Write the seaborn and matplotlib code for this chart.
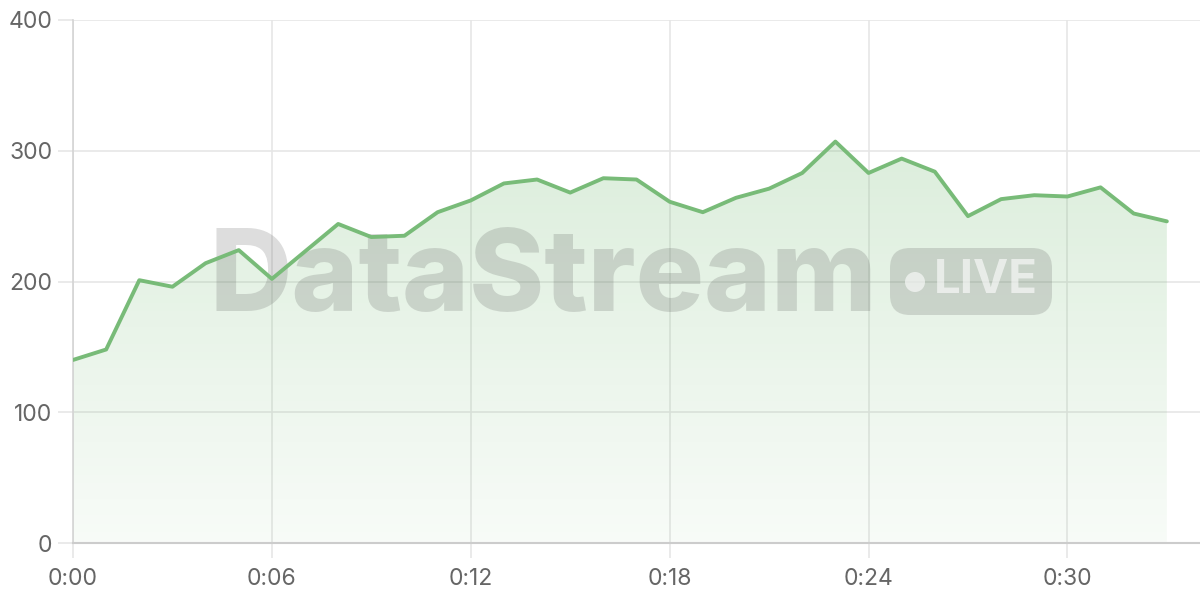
import numpy as np
import pandas as pd
import matplotlib
matplotlib.use("Agg")
import matplotlib.pyplot as plt
from matplotlib.patches import FancyBboxPatch, Circle
import seaborn as sns

# ---- data ----
minutes = list(range(34))
values = [140, 148, 201, 196, 214, 224, 202, 223, 244, 234, 235, 253, 262, 275,
          278, 268, 279, 278, 261, 253, 264, 271, 283, 307, 283, 294, 284, 250,
          263, 266, 265, 272, 252, 246]
xtick_pos = [0, 6, 12, 18, 24, 30]
xtick_labels = ["0:00", "0:06", "0:12", "0:18", "0:24", "0:30"]
ytick_pos = [0, 100, 200, 300, 400]
watermark = "DataStream"
badge_text = "LIVE"

df = pd.DataFrame({"minute": minutes, "value": values})

sns.set_theme(style="white")
plt.rcParams["font.family"] = ["Inter", "DejaVu Sans"]

fig = plt.figure(figsize=(12, 6), dpi=100)
ax = fig.add_axes([73 / 1200, 57 / 600, (1200 - 73) / 1200, (543 - 20) / 600])
ax.set_xlim(0, 34)
ax.set_ylim(0, 400)

green = (0.43, 0.72, 0.43)

# gradient fill under line
poly = ax.fill_between(df["minute"], df["value"], 0, color="none", lw=0)
grad = np.linspace(0.05, 0.30, 256).reshape(-1, 1)
rgba = np.zeros((256, 1, 4))
rgba[..., 0] = green[0]
rgba[..., 1] = green[1]
rgba[..., 2] = green[2]
rgba[..., 3] = grad
img = ax.imshow(rgba, extent=[0, 33, 0, 400], origin="lower", aspect="auto", zorder=1)
path = poly.get_paths()[0]
img.set_clip_path(path, transform=ax.transData)

# watermark
ax.text(0.121, 0.50, watermark, transform=ax.transAxes,
        fontsize=82, fontweight="heavy", color="#555555", alpha=0.2,
        ha="left", va="center", zorder=2, family=["Inter", "DejaVu Sans"])
badge = FancyBboxPatch((890, 600 - 315), 162, 67, boxstyle="round,pad=0,rounding_size=20",
                       transform=None, facecolor="#555555", alpha=0.2, edgecolor="none", zorder=2)
fig.patches.append(badge)
fig.patches.append(Circle((915, 600 - 282), 10, transform=None, facecolor="white",
                          alpha=0.6, edgecolor="none", zorder=3))
fig.text(986 / 1200, (600 - 281) / 600, badge_text, fontsize=34, fontweight="bold",
         color="white", alpha=0.6, ha="center", va="center", zorder=3)

sns.lineplot(data=df, x="minute", y="value", ax=ax, color="#78bb78", linewidth=2.8, zorder=4)

ax.set_xticks(xtick_pos)
ax.set_xticklabels(xtick_labels)
ax.set_yticks(ytick_pos)
ax.set_xlabel("")
ax.set_ylabel("")
ax.grid(True, color="#e6e6e6", linewidth=1.2, zorder=0)
ax.set_axisbelow(True)
ax.tick_params(axis="both", length=11, width=1.2, color="#e6e6e6", labelsize=16.5,
               labelcolor="#666666", left=True, bottom=True)
ax.tick_params(axis="y", pad=4)
ax.tick_params(axis="x", pad=7)
for s in ["top", "right"]:
    ax.spines[s].set_visible(False)
ax.spines["left"].set_color("#d4d4d4")
ax.spines["bottom"].set_color("#cccccc")
ax.spines["left"].set_linewidth(1.2)
ax.spines["bottom"].set_linewidth(1.5)

fig.savefig("out.png", dpi=100, facecolor="white")
